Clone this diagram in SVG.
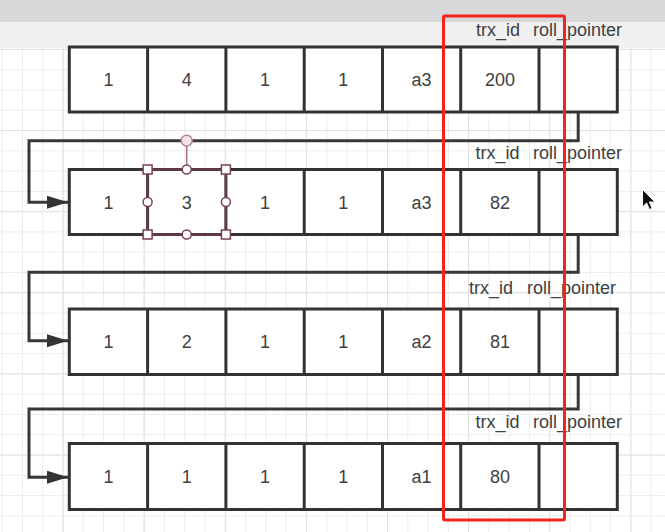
<svg xmlns="http://www.w3.org/2000/svg" width="665" height="532" viewBox="0 0 665 532">
  <style>
    .row rect.box { fill: #ffffff; stroke: #333333; stroke-width: 3; }
    .row line { stroke: #333333; stroke-width: 3; }
    .cell { font-family: "Liberation Sans", Arial, sans-serif; font-size: 18px; fill: #404040; text-anchor: middle; }
    .lbl { font-family: "Liberation Sans", Arial, sans-serif; font-size: 18px; fill: #404040; }
    .conn { fill: none; stroke: #383838; stroke-width: 3; stroke-linejoin: miter; }
    .sel { fill: none; stroke: #6e3b48; stroke-width: 2; }
    .hsq { fill: #ffffff; stroke: #7a4050; stroke-width: 1.5; }
    .hci { fill: #ffffff; stroke: #7a4050; stroke-width: 1.5; }
  </style>
  <defs>
    <pattern id="gridMinor" patternUnits="userSpaceOnUse" x="1.7" y="48.9" width="20.28" height="20.28">
      <path d="M0 0.5 H20.28 M0.5 0 V20.28" stroke="#ececec" stroke-width="1" fill="none"/>
    </pattern>
    <pattern id="gridMajor" patternUnits="userSpaceOnUse" x="62.5" y="130" width="81.12" height="81.12">
      <path d="M0 0.5 H81.12 M0.5 0 V81.12" stroke="#e0e0e0" stroke-width="1" fill="none"/>
    </pattern>
    <marker id="arrow" markerUnits="userSpaceOnUse" markerWidth="22" markerHeight="14" refX="21" refY="7" orient="auto">
      <path d="M0 0.5 L21 7 L0 13.5 Z" fill="#333333"/>
    </marker>
  </defs>

  <!-- background -->
  <rect x="0" y="0" width="665" height="532" fill="#ffffff"/>
  <rect x="0" y="48" width="665" height="484" fill="url(#gridMinor)"/>
  <rect x="0" y="48" width="665" height="484" fill="url(#gridMajor)"/>
  <rect x="0" y="0" width="665" height="22" fill="#d8d8da"/>
  <rect x="0" y="22" width="665" height="26" fill="#f0f0f0"/>

  <!-- connectors -->
  <g id="connectors">
    <path class="conn" d="M578.2 112 V140.7 H29 V202.3 H68" marker-end="url(#arrow)"/>
    <path class="conn" d="M578.2 234.5 V272.3 H29 V340.8 H68" marker-end="url(#arrow)"/>
    <path class="conn" d="M578.2 374.5 V409 H29 V477.3 H68" marker-end="url(#arrow)"/>
  </g>

  <!-- row 1 -->
  <g id="row1" class="row">
    <rect class="box" x="69.3" y="47" width="548" height="65"/>
    <line x1="147.6" y1="47" x2="147.6" y2="112"/>
    <line x1="225.9" y1="47" x2="225.9" y2="112"/>
    <line x1="304.2" y1="47" x2="304.2" y2="112"/>
    <line x1="382.5" y1="47" x2="382.5" y2="112"/>
    <line x1="460.7" y1="47" x2="460.7" y2="112"/>
    <line x1="539" y1="47" x2="539" y2="112"/>
    <text class="cell" x="108.4" y="86">1</text>
    <text class="cell" x="186.7" y="86">4</text>
    <text class="cell" x="265" y="86">1</text>
    <text class="cell" x="343.3" y="86">1</text>
    <text class="cell" x="421.6" y="86">a3</text>
    <text class="cell" x="499.9" y="86">200</text>
    <text class="lbl" x="476" y="36">trx_id</text>
    <text class="lbl" x="533" y="36">roll_pointer</text>
  </g>

  <!-- row 2 -->
  <g id="row2" class="row">
    <rect class="box" x="69.3" y="169.5" width="548" height="65"/>
    <line x1="147.6" y1="169.5" x2="147.6" y2="234.5"/>
    <line x1="225.9" y1="169.5" x2="225.9" y2="234.5"/>
    <line x1="304.2" y1="169.5" x2="304.2" y2="234.5"/>
    <line x1="382.5" y1="169.5" x2="382.5" y2="234.5"/>
    <line x1="460.7" y1="169.5" x2="460.7" y2="234.5"/>
    <line x1="539" y1="169.5" x2="539" y2="234.5"/>
    <text class="cell" x="108.4" y="208.5">1</text>
    <text class="cell" x="186.7" y="208.5">3</text>
    <text class="cell" x="265" y="208.5">1</text>
    <text class="cell" x="343.3" y="208.5">1</text>
    <text class="cell" x="421.6" y="208.5">a3</text>
    <text class="cell" x="499.9" y="208.5">82</text>
    <text class="lbl" x="475.5" y="159">trx_id</text>
    <text class="lbl" x="533" y="159">roll_pointer</text>
  </g>

  <!-- selection on cell "3" -->
  <g id="selection">
    <rect class="sel" x="147.6" y="169.5" width="78.3" height="65"/>
    <line x1="186.7" y1="146" x2="186.7" y2="169.5" stroke="#a8707a" stroke-width="1.5"/>
    <circle cx="186.7" cy="140.7" r="5.5" fill="#f3e4e7" stroke="#b8848c" stroke-width="1.5"/>
    <rect class="hsq" x="143.1" y="165" width="9" height="9"/>
    <rect class="hsq" x="221.4" y="165" width="9" height="9"/>
    <rect class="hsq" x="143.1" y="230" width="9" height="9"/>
    <rect class="hsq" x="221.4" y="230" width="9" height="9"/>
    <circle class="hci" cx="186.7" cy="169.5" r="4.5"/>
    <circle class="hci" cx="186.7" cy="234.5" r="4.5"/>
    <circle class="hci" cx="147.6" cy="202" r="4.5"/>
    <circle class="hci" cx="225.9" cy="202" r="4.5"/>
  </g>

  <!-- row 3 -->
  <g id="row3" class="row">
    <rect class="box" x="69.3" y="309" width="548" height="65.5"/>
    <line x1="147.6" y1="309" x2="147.6" y2="374.5"/>
    <line x1="225.9" y1="309" x2="225.9" y2="374.5"/>
    <line x1="304.2" y1="309" x2="304.2" y2="374.5"/>
    <line x1="382.5" y1="309" x2="382.5" y2="374.5"/>
    <line x1="460.7" y1="309" x2="460.7" y2="374.5"/>
    <line x1="539" y1="309" x2="539" y2="374.5"/>
    <text class="cell" x="108.4" y="348">1</text>
    <text class="cell" x="186.7" y="348">2</text>
    <text class="cell" x="265" y="348">1</text>
    <text class="cell" x="343.3" y="348">1</text>
    <text class="cell" x="421.6" y="348">a2</text>
    <text class="cell" x="499.9" y="348">81</text>
    <text class="lbl" x="469" y="294">trx_id</text>
    <text class="lbl" x="527" y="294">roll_pointer</text>
  </g>

  <!-- row 4 -->
  <g id="row4" class="row">
    <rect class="box" x="69.3" y="443.5" width="548" height="66"/>
    <line x1="147.6" y1="443.5" x2="147.6" y2="509.5"/>
    <line x1="225.9" y1="443.5" x2="225.9" y2="509.5"/>
    <line x1="304.2" y1="443.5" x2="304.2" y2="509.5"/>
    <line x1="382.5" y1="443.5" x2="382.5" y2="509.5"/>
    <line x1="460.7" y1="443.5" x2="460.7" y2="509.5"/>
    <line x1="539" y1="443.5" x2="539" y2="509.5"/>
    <text class="cell" x="108.4" y="483">1</text>
    <text class="cell" x="186.7" y="483">1</text>
    <text class="cell" x="265" y="483">1</text>
    <text class="cell" x="343.3" y="483">1</text>
    <text class="cell" x="421.6" y="483">a1</text>
    <text class="cell" x="499.9" y="483">80</text>
    <text class="lbl" x="475.5" y="428">trx_id</text>
    <text class="lbl" x="533" y="428">roll_pointer</text>
  </g>

  <!-- red highlight -->
  <rect id="highlight" x="443.5" y="16" width="121" height="504" rx="1.5" fill="none" stroke="#f4231c" stroke-width="3"/>

  <!-- mouse cursor -->
  <path id="cursor" d="M642.5 189.5 L642.5 207 L646.6 203 L649.5 209.5 L652.2 208.3 L649.4 202 L655 202 Z" fill="#111111" stroke="#ffffff" stroke-width="1"/>
</svg>
